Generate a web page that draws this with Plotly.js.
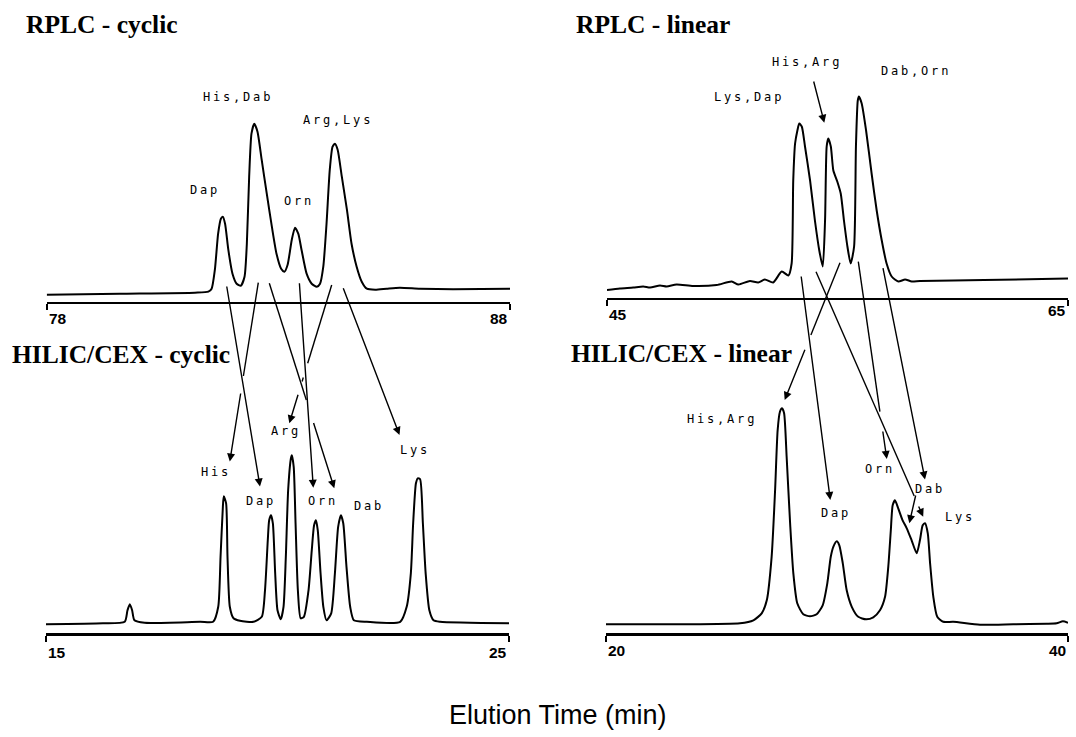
<!DOCTYPE html>
<html>
<head>
<meta charset="utf-8">
<script src="https://cdn.plot.ly/plotly-3.0.1.min.js"></script>
<style>
html,body{margin:0;padding:0;background:#fff;}
#chart{width:1076px;height:737px;}
text.annotation-text[style*="Mono"]{letter-spacing:2.8px;}
</style>
</head>
<body>
<div id="chart"></div>
<script>
// ---------------- DATA ----------------
// RPLC - cyclic (elution time, min ; detector response, arbitrary units)
const rplcCyclicTime = [78.00, 79.58, 81.20, 81.49, 81.56, 81.63, 81.70, 81.76, 81.80, 81.85, 81.92, 82.01, 82.10, 82.19, 82.27, 82.32, 82.37, 82.42, 82.48, 82.55, 82.64, 82.75, 82.86, 82.96, 83.06, 83.13, 83.20, 83.29, 83.36, 83.43, 83.50, 83.61, 83.72, 83.83, 83.90, 83.97, 84.04, 84.11, 84.17, 84.22, 84.28, 84.37, 84.48, 84.58, 84.69, 84.80, 84.91, 85.09, 85.34, 85.62, 86.06, 86.77, 88.00];
const rplcCyclicResp = [7, 8, 9, 10, 13, 32, 68, 83, 85, 78, 52, 28, 18, 16, 25, 58, 125, 168, 178, 170, 142, 108, 75, 48, 33, 30, 37, 62, 74, 68, 52, 28, 18, 15, 18, 35, 78, 132, 155, 158, 152, 125, 92, 58, 35, 20, 13, 12, 13, 14, 13, 12.5, 13];
const rplcCyclicTicks = [78, 88];
const rplcCyclicPeaks = ["Dap", "His,Dab", "Orn", "Arg,Lys"];

// RPLC - linear
const rplcLinearTime = [45.00, 45.56, 46.14, 46.57, 46.87, 47.30, 47.59, 48.02, 48.74, 49.76, 50.41, 50.70, 51.20, 51.56, 51.85, 52.21, 52.58, 52.87, 53.01, 53.08, 53.16, 53.26, 53.34, 53.45, 53.59, 53.81, 54.02, 54.21, 54.36, 54.46, 54.53, 54.60, 54.71, 54.82, 54.99, 55.14, 55.28, 55.43, 55.57, 55.72, 55.80, 55.88, 55.93, 56.05, 56.24, 56.48, 56.70, 56.92, 57.13, 57.35, 57.64, 57.93, 58.22, 58.58, 61.36, 65.00];
const rplcLinearResp = [7.5, 9, 10, 11, 10, 12, 11, 13, 11.5, 12.5, 16, 13, 16.5, 15, 18, 15, 26, 22, 34, 117, 154, 167, 174, 171, 151, 117, 77, 47, 31, 77, 151, 159, 151, 127, 116, 104, 77, 51, 34, 51, 151, 197, 201, 194, 167, 124, 87, 57, 34, 21, 16, 18, 16, 16.5, 17.5, 19];
const rplcLinearTicks = [45, 65];
const rplcLinearPeaks = ["Lys,Dap", "His,Arg", "Dab,Orn"];

// HILIC/CEX - cyclic
const hilicCyclicTime = [15.00, 16.23, 16.70, 16.76, 16.81, 16.86, 16.91, 17.13, 18.33, 18.61, 18.72, 18.77, 18.82, 18.84, 18.89, 18.92, 18.97, 19.05, 19.19, 19.48, 19.66, 19.73, 19.79, 19.82, 19.86, 19.90, 19.95, 20.00, 20.07, 20.13, 20.18, 20.23, 20.29, 20.31, 20.35, 20.39, 20.44, 20.50, 20.57, 20.67, 20.74, 20.79, 20.83, 20.87, 20.93, 20.99, 21.06, 21.16, 21.24, 21.31, 21.37, 21.42, 21.49, 21.57, 21.65, 21.93, 22.65, 22.79, 22.88, 22.93, 22.99, 23.03, 23.08, 23.14, 23.20, 23.28, 23.37, 23.51, 25.00];
const hilicCyclicResp = [9, 10, 11.5, 23, 29, 23, 13, 10.5, 11.5, 11.5, 26.5, 76.5, 126.5, 137, 130, 76.5, 26.5, 15, 12.5, 11.5, 16.5, 43, 93, 113, 118, 110, 60, 23, 14, 26.5, 76.5, 143, 175, 178, 166.5, 110, 43, 15, 16.5, 43, 83, 108, 113, 103, 60, 26.5, 13, 20, 60, 106.5, 118, 110, 66.5, 26.5, 13, 11.5, 11.5, 26.5, 60, 110, 150, 155, 154, 110, 60, 23, 13, 11.5, 10];
const hilicCyclicTicks = [15, 25];
const hilicCyclicPeaks = ["His", "Dap", "Arg", "Orn", "Dab", "Lys"];

// HILIC/CEX - linear
const hilicLinearTime = [20.00, 23.20, 25.80, 26.38, 26.74, 26.96, 27.17, 27.32, 27.43, 27.53, 27.62, 27.71, 27.82, 27.97, 28.11, 28.28, 28.54, 28.83, 29.12, 29.38, 29.58, 29.73, 29.84, 29.99, 30.10, 30.25, 30.42, 30.64, 30.92, 31.26, 31.57, 31.86, 32.08, 32.22, 32.33, 32.41, 32.51, 32.65, 32.84, 33.02, 33.23, 33.45, 33.59, 33.71, 33.81, 33.93, 34.03, 34.17, 34.34, 34.60, 35.03, 36.19, 37.63, 39.08, 39.51, 39.78, 40.00];
const hilicLinearResp = [9, 9, 10, 13, 20, 33, 76.5, 143, 203, 221.5, 225, 220, 176.5, 110, 60, 30, 19, 17, 19, 28, 50, 76.5, 86.5, 92, 88, 70, 43, 26.5, 16.5, 14, 16, 23, 36.5, 66.5, 103, 128, 133, 125, 113, 105, 93, 80, 93, 108, 110, 100, 70, 36.5, 16.5, 11.5, 11.5, 8.5, 9, 9.5, 10, 12, 10.5];
const hilicLinearTicks = [20, 40];
const hilicLinearPeaks = ["His,Arg", "Dap", "Orn", "Dab", "Lys"];

const panelTitles = ["RPLC - cyclic", "RPLC - linear", "HILIC/CEX - cyclic", "HILIC/CEX - linear"];
const xAxisTitle = "Elution Time (min)";

// ---------------- LAYOUT ----------------
const W = 1076, H = 737;
const fx = v => v / W;
const fy = v => 1 - v / H;

const panels = [
  {t: rplcCyclicTime, r: rplcCyclicResp, ticks: rplcCyclicTicks, peaks: rplcCyclicPeaks,
   xd: [46.7, 510], yd: [301.7, 100], yr: 201.7,
   tickY: [318.3, 318.3],
   labelPos: [[205, 190], [237.5, 97], [298.5, 201], [338, 120]],
   title: [24, 24.5]},
  {t: rplcLinearTime, r: rplcLinearResp, ticks: rplcLinearTicks, peaks: rplcLinearPeaks,
   xd: [607, 1068], yd: [297.5, 90], yr: 207.5,
   tickY: [315, 310],
   labelPos: [[749, 96.5], [807, 61.5], [916, 71]],
   title: [574, 24.5]},
  {t: hilicCyclicTime, r: hilicCyclicResp, ticks: hilicCyclicTicks, peaks: hilicCyclicPeaks,
   xd: [46, 509], yd: [633.3, 420], yr: 213.3,
   tickY: [652, 652],
   labelPos: [[216, 472], [260.5, 501], [286.3, 431], [323, 500.5], [368.5, 505.5], [415, 450]],
   title: [10, 354.5]},
  {t: hilicLinearTime, r: hilicLinearResp, ticks: hilicLinearTicks, peaks: hilicLinearPeaks,
   xd: [606, 1068], yd: [633.3, 380], yr: 253.3,
   tickY: [650, 650],
   labelPos: [[721.7, 419], [835.5, 512.7], [880.4, 469.3], [930, 488.5], [959.5, 516.7]],
   title: [569, 353.5]}
];

const traces = [];
const layout = {
  width: W, height: H,
  margin: {l: 0, r: 0, t: 0, b: 0},
  paper_bgcolor: "#ffffff", plot_bgcolor: "rgba(0,0,0,0)",
  showlegend: false,
  annotations: [], shapes: []
};

panels.forEach((p, i) => {
  const n = i === 0 ? "" : String(i + 1);
  traces.push({
    x: p.t, y: p.r, xaxis: "x" + n, yaxis: "y" + n,
    type: "scatter", mode: "lines", hoverinfo: "skip", cliponaxis: false,
    line: {color: "#000", width: 2, shape: "spline", smoothing: 0.6}
  });
  layout["xaxis" + n] = {
    domain: [fx(p.xd[0]), fx(p.xd[1])], range: [p.ticks[0], p.ticks[1]],
    anchor: "y" + n, showline: true, linewidth: 2.4, linecolor: "#000",
    ticks: "outside", tickvals: p.ticks, ticklen: 6, tickwidth: 2.2, tickcolor: "#000",
    showticklabels: false, showgrid: false, zeroline: false, fixedrange: true
  };
  layout["yaxis" + n] = {
    domain: [fy(p.yd[0]), fy(p.yd[1])], range: [0, p.yr],
    anchor: "x" + n, visible: false, fixedrange: true
  };
  // tick labels at the two ends, set inside the axis ends
  p.ticks.forEach((v, k) => {
    layout.annotations.push({
      text: "<b>" + v + "</b>", x: v, xref: "x" + n, y: fy(p.tickY[k]), yref: "paper",
      xanchor: k === 0 ? "left" : "right", yanchor: "middle", showarrow: false,
      font: {family: "Liberation Sans, Arial, sans-serif", size: 15.5, color: "#000"}
    });
  });
  // peak labels
  p.peaks.forEach((s, k) => {
    layout.annotations.push({
      text: s, x: fx(p.labelPos[k][0]), y: fy(p.labelPos[k][1]), xref: "paper", yref: "paper",
      xanchor: "center", yanchor: "middle", showarrow: false,
      font: {family: "DejaVu Sans Mono, monospace", size: 12, color: "#000"}
    });
  });
  // panel title
  layout.annotations.push({
    text: "<b>" + panelTitles[i] + "</b>", x: fx(p.title[0]), y: fy(p.title[1]),
    xref: "paper", yref: "paper", xanchor: "left", yanchor: "middle", showarrow: false,
    font: {family: "Liberation Serif, Times New Roman, serif", size: 25.5, color: "#000"}
  });
});

// x-axis title shared by all four chromatograms
layout.annotations.push({
  text: xAxisTitle, x: fx(557.5), y: fy(714.5), xref: "paper", yref: "paper",
  xanchor: "center", yanchor: "middle", showarrow: false,
  font: {family: "Liberation Sans, Arial, sans-serif", size: 27, color: "#000"}
});

// connector lines between the chromatograms (tail x, tail y, head x, head y, arrowhead)
const connectors = [
  [226.5, 285, 260, 486.5, 1],
  [258.3, 282.7, 243.4, 376, 0], [240.9, 392, 229.8, 461.5, 1],
  [269.3, 283.3, 306.3, 400, 0], [313.1, 421.5, 334.3, 488.3, 1],
  [299.3, 281.7, 313.3, 487.7, 1],
  [331.7, 285, 307.7, 363.3, 0], [303.3, 377.5, 302.1, 381.5, 0], [298.5, 393.3, 289.3, 423.3, 1],
  [342.7, 286.7, 399.5, 435, 1],
  [801, 275, 830.3, 500, 1],
  [816, 271.7, 914.2, 496, 0], [918, 505, 923.2, 516.7, 1],
  [840, 262.7, 810.9, 335, 0], [805.5, 348.3, 784.7, 400, 1],
  [858.3, 261.7, 879.9, 411.7, 0], [882.6, 430, 886.8, 459, 1],
  [882.7, 266.7, 925, 479.5, 1],
  [916, 494, 909.3, 523.3, 1],
  [813.3, 80, 824.3, 122.7, 1]
];
connectors.forEach(c => {
  if (c[4]) {
    layout.annotations.push({
      text: "", x: fx(c[2]), y: fy(c[3]), xref: "paper", yref: "paper",
      ax: c[0] - c[2], ay: c[1] - c[3], axref: "pixel", ayref: "pixel",
      showarrow: true, arrowhead: 2, arrowsize: 1.15, arrowwidth: 1.4, arrowcolor: "#000", standoff: 0
    });
  } else {
    layout.shapes.push({
      type: "line", xref: "paper", yref: "paper",
      x0: fx(c[0]), y0: fy(c[1]), x1: fx(c[2]), y1: fy(c[3]),
      line: {color: "#000", width: 1.4}
    });
  }
});

Plotly.newPlot("chart", traces, layout, {staticPlot: true, displayModeBar: false});
</script>
</body>
</html>
